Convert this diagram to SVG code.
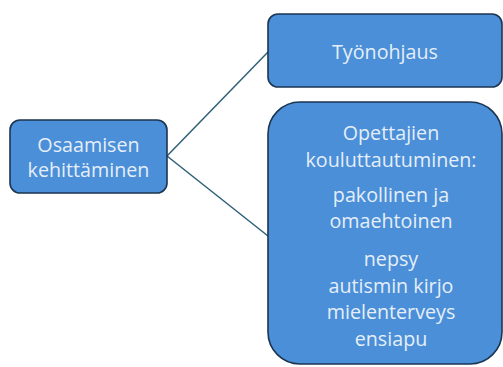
<svg xmlns="http://www.w3.org/2000/svg" width="503" height="367" viewBox="0 0 503 367">
  <style>
    .box { fill: #4a8fd8; stroke: #1c3550; stroke-width: 1.6; }
    .lbl { font-family: "Open Sans", "Liberation Sans", sans-serif; font-size: 19.7px; fill: #e6eef8; text-anchor: middle; }
    .link { stroke: #2f5f77; stroke-width: 1.5; fill: none; }
  </style>
  <rect width="503" height="367" fill="#ffffff"/>
  <g id="connectors">
    <line class="link" x1="167" y1="156" x2="268" y2="52"/>
    <line class="link" x1="167" y1="156" x2="268" y2="236"/>
  </g>
  <g id="osaamisen">
    <rect class="box" x="10" y="120" width="157" height="73" rx="10"/>
    <text class="lbl" x="88.5" y="152">Osaamisen</text>
    <text class="lbl" x="88.5" y="177">kehittäminen</text>
  </g>
  <g id="tyonohjaus">
    <rect class="box" x="268" y="14" width="234" height="73" rx="10"/>
    <text class="lbl" x="385" y="59">Työnohjaus</text>
  </g>
  <g id="koulutus">
    <rect class="box" x="268" y="102" width="234" height="262" rx="32"/>
    <text class="lbl" x="391" y="140">Opettajien</text>
    <text class="lbl" x="391" y="167">kouluttautuminen:</text>
    <text class="lbl" x="391" y="202">pakollinen ja</text>
    <text class="lbl" x="391" y="228">omaehtoinen</text>
    <text class="lbl" x="391" y="266">nepsy</text>
    <text class="lbl" x="391" y="293">autismin kirjo</text>
    <text class="lbl" x="391" y="319">mielenterveys</text>
    <text class="lbl" x="391" y="346">ensiapu</text>
  </g>
</svg>
